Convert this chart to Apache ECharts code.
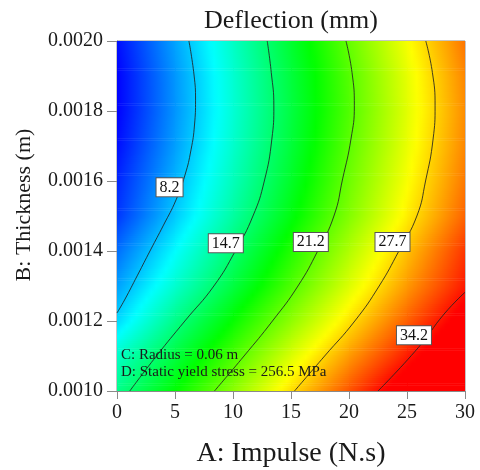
<!DOCTYPE html>
<html><head><meta charset="utf-8">
<script src="https://cdn.jsdelivr.net/npm/echarts@6/dist/echarts.min.js"></script>
<style>html,body{margin:0;padding:0;background:#fff}#c{width:480px;height:470px}</style>
</head><body><div id="c"></div>
<script>
// ---- data ----
const impulse = [0, 5, 10, 15, 20, 25, 30];
const thickness = [0.0010, 0.0011, 0.0012, 0.0013, 0.0014, 0.0015, 0.0016, 0.0017, 0.0018, 0.0019, 0.0020];
// deflection (mm): one row per thickness value, one column per impulse value
const deflection = [
  [13.82, 18.21, 22.73, 27.51, 31.97, 36.43, 40.88],
  [11.80, 16.19, 20.58, 25.25, 29.68, 33.79, 37.90],
  [8.76, 13.88, 18.39, 22.83, 27.34, 31.58, 35.80],
  [6.97, 11.57, 16.16, 20.73, 25.31, 29.70, 33.86],
  [5.35, 9.99, 14.64, 19.29, 23.88, 28.41, 32.94],
  [3.55, 8.30, 13.05, 17.75, 22.39, 26.93, 31.47],
  [2.97, 7.60, 12.23, 16.94, 21.72, 26.25, 30.78],
  [2.22, 6.93, 11.64, 16.37, 21.15, 25.73, 30.31],
  [1.82, 6.59, 11.36, 16.11, 20.80, 25.46, 30.12],
  [1.80, 6.63, 11.47, 16.25, 20.92, 25.61, 30.31],
  [2.25, 7.06, 11.86, 16.66, 21.45, 26.17, 30.89]
];
const contourLevels = ['8.2', '14.7', '21.2', '27.7', '34.2'];
// contour paths [impulse, thickness]
const contour8_2 = [[6.2,0.0020],[6.64,0.001903],[6.77,0.001831],[6.68,0.00176],[6.38,0.001689],[5.86,0.001617],[5.09,0.001546],[4.01,0.001474],[2.89,0.001403],[1.77,0.001331],[0.65,0.00126],[0,0.001223]];
const contour14_7 = [[12.95,0.0020],[13.3,0.00191],[13.52,0.001815],[13.35,0.00172],[12.7,0.0016],[11.72,0.0015],[10.2,0.0014],[8.35,0.0013],[5.85,0.0012],[3.4,0.0011],[1.1,0.0010]];
const contour21_2 = [[19.74,0.0020],[20.26,0.00191],[20.46,0.001815],[20.17,0.00172],[19.45,0.001606],[18.7,0.0015],[17.3,0.0014],[15.6,0.0013],[13.4,0.0012],[10.95,0.0011],[8.4,0.0010]];
const contour27_7 = [[26.62,0.0020],[27.19,0.00191],[27.42,0.001815],[27.25,0.00172],[26.6,0.0016],[25.85,0.0015],[24.3,0.0014],[22.6,0.0013],[20.5,0.0012],[17.9,0.0011],[15.3,0.0010]];
const contour34_2 = [[30.0,0.001282],[28.2,0.00122],[26.0,0.001125],[22.5,0.0010]];
const labelImpulse = [4.53, 9.38, 16.71, 23.75, 25.6];
const labelThickness = [0.001582, 0.001422, 0.001426, 0.001426, 0.001159];
const xTicks = [0, 5, 10, 15, 20, 25, 30];
const yTicks = ['0.0010', '0.0012', '0.0014', '0.0016', '0.0018', '0.0020'];
const notes = ['C: Radius = 0.06 m', 'D: Static yield stress = 256.5 MPa'];

// ---- styling ----
const FONT = "'Liberation Serif', 'Times New Roman', serif";
const cStops = [1.8, 10, 18.2, 26.4, 34.6];
const cCols = [[0,0,255],[0,255,255],[0,255,0],[255,255,0],[255,0,0]];
function cmap(v) {
  if (v <= cStops[0]) return 'rgb(' + cCols[0].join(',') + ')';
  for (let k = 0; k < cStops.length - 1; k++) {
    if (v <= cStops[k + 1]) {
      const t = (v - cStops[k]) / (cStops[k + 1] - cStops[k]);
      const a = cCols[k], b = cCols[k + 1];
      return 'rgb(' + [0,1,2].map(q => Math.round(a[q] + (b[q] - a[q]) * t)).join(',') + ')';
    }
  }
  return 'rgb(' + cCols[cCols.length - 1].join(',') + ')';
}

const cells = [];
for (let j = 0; j < thickness.length - 1; j++) {
  for (let i = 0; i < impulse.length - 1; i++) {
    cells.push([impulse[i], thickness[j], impulse[i + 1], thickness[j + 1],
      deflection[j][i], deflection[j][i + 1], deflection[j + 1][i], deflection[j + 1][i + 1]]);
  }
}

function renderCell(params, api) {
  const a0 = api.value(0), b0 = api.value(1), a1 = api.value(2), b1 = api.value(3);
  const v00 = api.value(4), v10 = api.value(5), v01 = api.value(6), v11 = api.value(7);
  const p0 = api.coord([a0, b0]), p1 = api.coord([a1, b1]);
  const x0 = p0[0], w = p1[0] - p0[0], yb = p0[1], h = p0[1] - p1[1];
  const N = Math.max(1, Math.ceil(h / 2));
  const children = [];
  const S = 12;
  for (let k = 0; k < N; k++) {
    const tm = (k + 0.5) / N;
    const vl = v00 + (v01 - v00) * tm, vr = v10 + (v11 - v10) * tm;
    const stops = [];
    for (let s = 0; s <= S; s++) {
      const f = s / S;
      stops.push({ offset: f, color: cmap(vl + (vr - vl) * f) });
    }
    children.push({
      type: 'rect',
      shape: { x: x0, y: yb - (k + 1) / N * h, width: w + 0.6, height: h / N + 0.6 },
      style: { fill: new echarts.graphic.LinearGradient(0, 0, 1, 0, stops) },
      silent: true
    });
  }
  return { type: 'group', children: children };
}

const contours = [contour8_2, contour14_7, contour21_2, contour27_7, contour34_2];
const lineSeries = contours.map(c => ({
  type: 'line', data: c, showSymbol: false, smooth: 0.5, silent: true, z: 3,
  lineStyle: { color: '#222', width: 1, opacity: 0.85 }
}));

const chart = echarts.init(document.getElementById('c'), null, { renderer: 'canvas' });
chart.setOption({
  animation: false,
  backgroundColor: '#fff',
  grid: { left: 117, right: 15, top: 41, bottom: 79, containLabel: false, outerBoundsMode: 'none',
    show: true, borderColor: '#8a8a8a', borderWidth: 1, backgroundColor: 'transparent' },
  xAxis: {
    type: 'value', min: xTicks[0], max: xTicks[xTicks.length - 1], interval: 5,
    name: 'A: Impulse (N.s)', nameLocation: 'middle', nameGap: 49,
    nameTextStyle: { fontFamily: FONT, fontSize: 28, color: '#1a1a1a' },
    axisLine: { show: true, lineStyle: { color: '#8a8a8a' } },
    axisTick: { show: true, length: 8, lineStyle: { color: '#8a8a8a' } },
    axisLabel: { fontFamily: FONT, fontSize: 20, color: '#1a1a1a', margin: 12 },
    splitLine: { show: false }
  },
  yAxis: {
    type: 'value', min: 0.0010, max: 0.0020, interval: 0.0002,
    name: 'B: Thickness (m)', nameLocation: 'middle', nameGap: 82, nameRotate: 90,
    nameTextStyle: { fontFamily: FONT, fontSize: 22, color: '#1a1a1a', padding: [0, 0, 0, 22] },
    axisLine: { show: true, lineStyle: { color: '#8a8a8a' } },
    axisTick: { show: true, length: 10, lineStyle: { color: '#8a8a8a' } },
    axisLabel: { fontFamily: FONT, fontSize: 20, color: '#1a1a1a', margin: 14,
      formatter: v => { const s = v.toFixed(4); return yTicks.indexOf(s) >= 0 ? s : ''; } },
    splitLine: { show: false }
  },
  series: [
    { type: 'custom', renderItem: renderCell, data: cells, encode: { x: [0, 2], y: [1, 3] }, clip: true, silent: true, z: 1 }
  ].concat(lineSeries).concat([{
    type: 'scatter', z: 5, silent: true, symbolSize: 0, itemStyle: { color: '#ffffff', opacity: 1 },
    data: contourLevels.map((t, k) => [labelImpulse[k], labelThickness[k], t]),
    label: {
      show: true, position: 'inside', formatter: p => p.value[2], opacity: 1,
      fontFamily: FONT, fontSize: 16, lineHeight: 16, color: '#111',
      backgroundColor: '#ffffff', borderColor: '#555', borderWidth: 1, padding: [1, 3, 1, 3]
    }
  }]),
  graphic: [
    { type: 'text', x: 291, y: 8, style: { text: 'Deflection (mm)', font: '26px ' + FONT, fill: '#1a1a1a', textAlign: 'center', textVerticalAlign: 'top' } },
    { type: 'text', x: 121, y: 355, z: 10, style: { text: notes[0], font: '15px ' + FONT, fill: '#1a1a1a', textAlign: 'left', textVerticalAlign: 'middle' } },
    { type: 'text', x: 121, y: 372, z: 10, style: { text: notes[1], font: '15px ' + FONT, fill: '#1a1a1a', textAlign: 'left', textVerticalAlign: 'middle' } }
  ]
});
</script>
</body></html>
